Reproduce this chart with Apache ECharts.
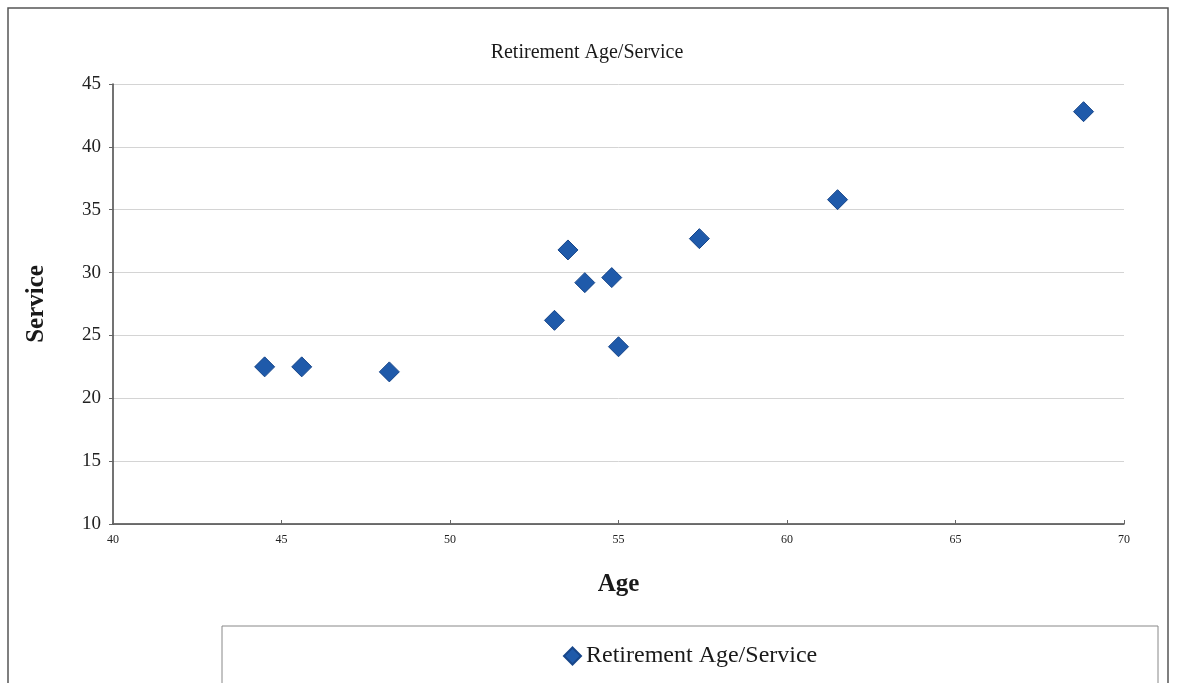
<!DOCTYPE html>
<html>
<head>
<meta charset="utf-8">
<script src="https://cdn.jsdelivr.net/npm/echarts@6/dist/echarts.min.js"></script>
<style>
  html, body { margin: 0; padding: 0; background: #fff; }
  #main { width: 1177px; height: 683px; }
</style>
</head>
<body>
<div id="main"></div>
<script>
  // ages (x) and years of service (y)
  var ages = [44.5, 45.6, 48.2, 53.1, 53.5, 54.0, 54.8, 55.0, 57.4, 61.5, 68.8];
  var service = [22.5, 22.5, 22.1, 26.2, 31.8, 29.2, 29.6, 24.1, 32.7, 35.8, 42.8];
  var seriesName = 'Retirement Age/Service';

  var points = [];
  for (var i = 0; i < ages.length; i++) {
    points.push([ages[i], service[i]]);
  }

  var serif = '"Liberation Serif", "DejaVu Serif", serif';
  var chart = echarts.init(document.getElementById('main'));

  option = {
    backgroundColor: '#fff',
    animation: false,
    title: {
      text: 'Retirement Age/Service',
      left: 582,
      textAlign: 'center',
      top: 38,
      textStyle: {
        fontFamily: serif,
        fontWeight: 'normal',
        fontSize: 20,
        color: '#1a1a1a'
      }
    },
    legend: {
      data: [seriesName],
      top: 639,
      left: 558,
      itemWidth: 17,
      itemHeight: 17,
      itemGap: 4,
      icon: 'diamond',
      textStyle: {
        fontFamily: serif,
        fontSize: 24,
        color: '#1a1a1a'
      }
    },
    grid: {
      left: 113,
      right: 53,
      top: 84,
      bottom: 159
    },
    xAxis: {
      type: 'value',
      min: 40,
      max: 70,
      interval: 5,
      name: 'Age',
      nameLocation: 'middle',
      nameGap: 48,
      nameTextStyle: {
        fontFamily: serif,
        fontWeight: 'bold',
        fontSize: 25,
        color: '#1a1a1a'
      },
      axisLine: { lineStyle: { color: '#444', width: 1.5 } },
      axisTick: { inside: true, length: 4, lineStyle: { color: '#666' } },
      splitLine: { show: false },
      axisLabel: {
        fontFamily: serif,
        fontSize: 12,
        color: '#222',
        margin: 10
      }
    },
    yAxis: {
      type: 'value',
      min: 10,
      max: 45,
      interval: 5,
      name: 'Service',
      nameLocation: 'middle',
      nameGap: 64,
      nameRotate: 90,
      nameTextStyle: {
        fontFamily: serif,
        fontWeight: 'bold',
        fontSize: 25,
        color: '#1a1a1a'
      },
      axisLine: { show: true, lineStyle: { color: '#444', width: 1.5 } },
      axisTick: { show: true, length: 4, lineStyle: { color: '#666' } },
      splitLine: { lineStyle: { color: '#d4d4d4', width: 1 } },
      axisLabel: {
        fontFamily: serif,
        fontSize: 19,
        color: '#222',
        margin: 12
      }
    },
    graphic: [
      {
        type: 'rect',
        shape: { x: 8, y: 8, width: 1160, height: 690 },
        style: { fill: 'none', stroke: '#555', lineWidth: 1.5 },
        silent: true
      },
      {
        type: 'rect',
        shape: { x: 222, y: 626, width: 936, height: 80 },
        style: { fill: 'none', stroke: '#888', lineWidth: 1 },
        silent: true
      }
    ],
    series: [{
      name: seriesName,
      type: 'scatter',
      symbol: 'diamond',
      symbolSize: 20,
      data: points,
      itemStyle: {
        color: '#1f5aaa',
        borderColor: '#17468a',
        borderWidth: 1,
        opacity: 1
      }
    }]
  };

  chart.setOption(option);
</script>
</body>
</html>
